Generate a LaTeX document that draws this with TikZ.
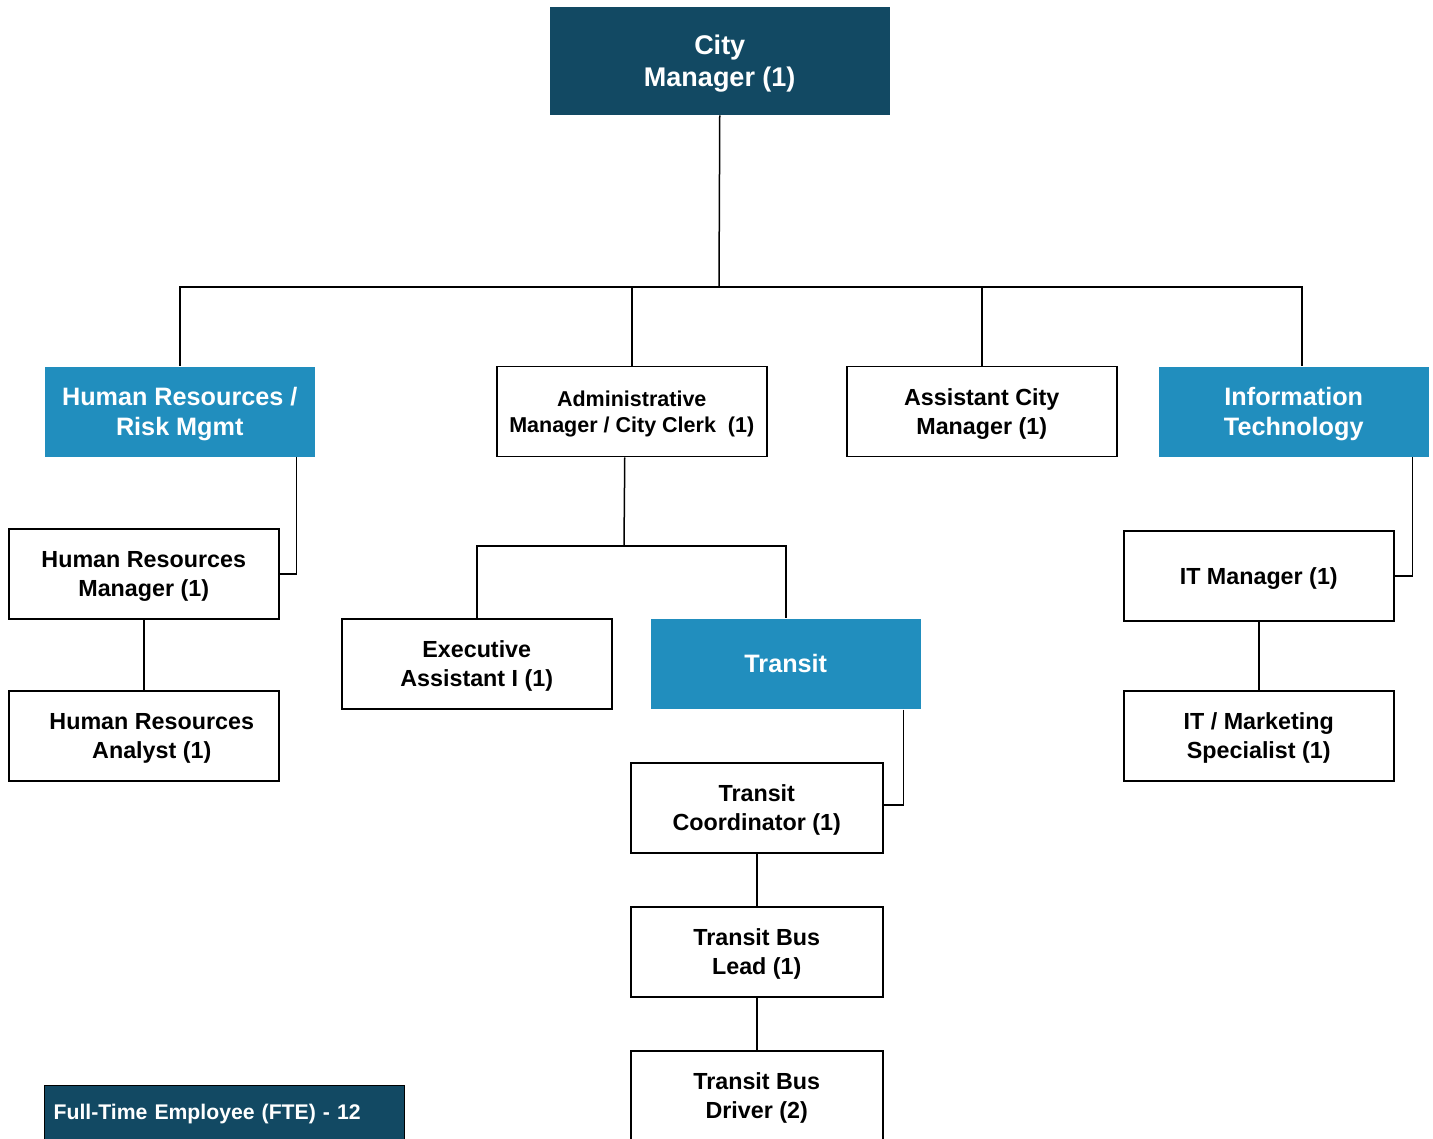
\documentclass[tikz,border=0pt]{standalone}
\usepackage{fontspec}
\setmainfont{Liberation Sans}
\definecolor{navy}{HTML}{124963}
\definecolor{deptblue}{HTML}{218EBE}
\begin{document}
\begin{tikzpicture}[x=1pt,y=-1pt,
  box/.style={draw=black, line width=1.5pt, fill=white, minimum width=270pt,
    minimum height=90pt, inner sep=0pt, align=center, anchor=north west,
    text depth=0pt, font=\bfseries\fontsize{23.3}{29}\selectfont},
  narrowbox/.style={box, minimum width=252pt},
  dept/.style={box, draw=none, fill=deptblue, text=white,
    font=\bfseries\fontsize{25.2}{30}\selectfont},
  head/.style={box, draw=none, fill=navy, text=white, minimum width=340pt,
    minimum height=108pt, font=\bfseries\fontsize{27}{32}\selectfont},
  fte/.style={draw=black, line width=1.2pt, fill=navy, text=white, anchor=north west,
    minimum height=56pt, text width=342pt, inner xsep=9pt, inner ysep=0pt, align=left,
    font=\bfseries\fontsize{21.2}{24}\selectfont},
  link/.style={draw=black, line width=1.5pt}]
\useasboundingbox (0,0) rectangle (1433,1139);

% top level
\node[head] (cm) at (549,6) {City\\Manager (1)};

% departments
\node[dept] (hr)  at (44,366)   {Human Resources /\\Risk Mgmt};
\node[box, font=\bfseries\fontsize{21.5}{26}\selectfont] (adm) at (496,366)
  {Administrative\\Manager / City Clerk\ \ (1)};
\node[box] (acm) at (846,366) {Assistant City\\Manager (1)};
\node[dept] (it)  at (1158,366) {Information\\Technology};

% human resources
\node[box] (hrm) at (8,528) {Human Resources\\Manager (1)};
\node[box] (hra) at (8,690) {\hspace*{16pt}Human Resources\\\hspace*{16pt}Analyst (1)};

% administration
\node[box]  (ea) at (341,618) {Executive\\Assistant I (1)};
\node[dept] (tr) at (650,618) {Transit};
\node[narrowbox] (tc)  at (630,762)  {Transit\\Coordinator (1)};
\node[narrowbox] (tbl) at (630,906)  {Transit Bus\\Lead (1)};
\node[narrowbox] (tbd) at (630,1050) {Transit Bus\\Driver (2)};

% information technology
\node[box] (itm)  at (1123,530) {IT Manager (1)};
\node[box] (itmk) at (1123,690) {IT / Marketing\\Specialist (1)};

% staff count
\node[fte] (count) at (44,1085) {Full-Time Employee (FTE) - 12};

% connectors
\coordinate (bus) at (719,287);
\coordinate (itdrop) at (1302,366);
\coordinate (abus) at (624,546);

\draw[link] (cm.south) -- (bus);
\draw[link] (hr.north) |- (bus) -| (itdrop);
\draw[link] (adm.north) -- (adm.north |- bus);
\draw[link] (acm.north) -- (acm.north |- bus);

\draw[link] ([xshift=-19pt]hr.south east) |- (hrm.east);
\draw[link] (hrm.south) -- (hra.north);

\draw[link] ([xshift=-7pt]adm.south) -- (abus);
\draw[link] (ea.north) |- (abus) -| (tr.north);
\draw[link] ([xshift=-18pt]tr.south east) |- ([yshift=3pt]tc.east);
\draw[link] (tc.south) -- (tbl.north);
\draw[link] (tbl.south) -- (tbd.north);

\draw[link] ([xshift=-17pt]it.south east) |- (itm.east);
\draw[link] (itm.south) -- (itmk.north);
\end{tikzpicture}
\end{document}
